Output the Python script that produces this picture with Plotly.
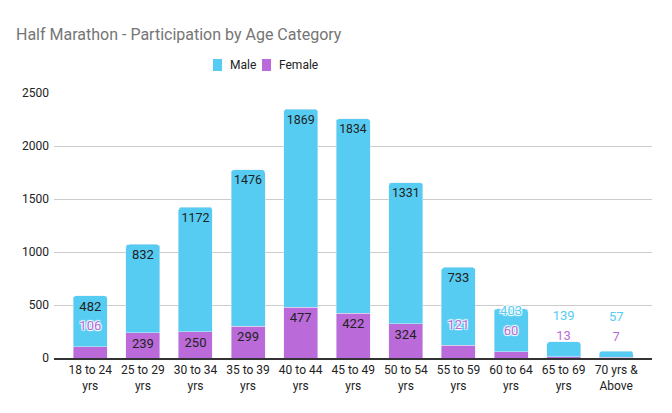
import plotly.graph_objects as go

categories = ["18 to 24<br>yrs", "25 to 29<br>yrs", "30 to 34<br>yrs", "35 to 39<br>yrs",
              "40 to 44<br>yrs", "45 to 49<br>yrs", "50 to 54<br>yrs", "55 to 59<br>yrs",
              "60 to 64<br>yrs", "65 to 69<br>yrs", "70 yrs &<br>Above"]
male = [482, 832, 1172, 1476, 1869, 1834, 1331, 733, 403, 139, 57]
female = [106, 239, 250, 299, 477, 422, 324, 121, 60, 13, 7]

MALE_C = "#56CCF2"
FEMALE_C = "#BB6BD9"
FONT = "Roboto"

# label placement logic (data units; ~0.106 px per unit)
F_MIN_INSIDE = 190
F_OUT_OFF = 185
M_OUT_OFF = 375
M_GAP = 265

f_inside = [f >= F_MIN_INSIDE for f in female]
f_label_y = [f + F_OUT_OFF for f in female]
m_inside = [fi or (m - F_OUT_OFF) > M_GAP for fi, m in zip(f_inside, male)]

idx = list(range(len(categories)))

fig = go.Figure()
fig.add_trace(go.Bar(
    x=idx, y=female, name="Female", marker_color=FEMALE_C,
    text=[str(v) if ins else "" for v, ins in zip(female, f_inside)],
    textposition="inside", insidetextanchor="end", textangle=0,
    textfont=dict(color="#222222", size=13, family=FONT),
    width=0.646, showlegend=False,
))
fig.add_trace(go.Bar(
    x=idx, y=male, name="Male", marker_color=MALE_C,
    text=[str(v) if ins else "" for v, ins in zip(male, m_inside)],
    textposition="inside", insidetextanchor="end", textangle=0,
    textfont=dict(color="#222222", size=13, family=FONT),
    width=0.646, showlegend=False,
))

shadow = "1px 1px 1px #fff, -1px -1px 1px #fff, 1px -1px 1px #fff, -1px 1px 1px #fff"

fo_x = [i for i in idx if not f_inside[i]]
fig.add_trace(go.Scatter(
    x=fo_x, y=[f_label_y[i] for i in fo_x], mode="text",
    text=[str(female[i]) for i in fo_x],
    textfont=dict(color=FEMALE_C, size=13, family=FONT, shadow=shadow),
    showlegend=False, hoverinfo="skip", cliponaxis=False,
))
mo_x = [i for i in idx if not m_inside[i]]
fig.add_trace(go.Scatter(
    x=mo_x, y=[female[i] + M_OUT_OFF for i in mo_x], mode="text",
    text=[str(male[i]) for i in mo_x],
    textfont=dict(color=MALE_C, size=13, family=FONT, shadow=shadow),
    showlegend=False, hoverinfo="skip", cliponaxis=False,
))

# page offset (body margin) compensation
OFF = 8
W, H = 672 - OFF, 413 - OFF
# plot area in page pixels
PL, PR, PT, PB = 54 - OFF, 652 - OFF, 93 - OFF, 358 - OFF


def px_x(p):
    return (p - OFF - PL) / (PR - PL)


def px_y(q):
    return (PB - (q - OFF)) / (PB - PT)


# manual legend (Google Sheets style)
legend_items = [("Male", MALE_C, 213), ("Female", FEMALE_C, 262)]
shapes = []
annotations = []
for name, col, sx in legend_items:
    shapes.append(dict(type="rect", xref="paper", yref="paper",
                       x0=px_x(sx), x1=px_x(sx + 9), y0=px_y(71), y1=px_y(59),
                       fillcolor=col, line=dict(width=0)))
    annotations.append(dict(text=name, xref="paper", yref="paper",
                            x=px_x(sx + 15), y=px_y(65), xanchor="left", yanchor="middle",
                            showarrow=False, font=dict(family=FONT, size=12, color="#222222")))

fig.update_layout(
    width=W, height=H,
    barmode="stack", barcornerradius=3,
    paper_bgcolor="white", plot_bgcolor="white",
    margin=dict(l=PL, r=W - PR, t=PT, b=H - PB, autoexpand=False),
    font=dict(family=FONT, color="#222222", size=12),
    title=dict(text="Half Marathon - Participation by Age Category",
               font=dict(family=FONT, size=16, color="#757575"),
               x=(16 - OFF) / W, xref="container", xanchor="left",
               y=1 - (34 - OFF) / H, yref="container", yanchor="middle"),
    showlegend=False,
    shapes=shapes, annotations=annotations,
)
fig.update_xaxes(
    tickmode="array", tickvals=idx, ticktext=categories,
    range=[-0.69, 10.68], showgrid=False, showline=True, linecolor="#333333",
    linewidth=1.5, ticks="", tickfont=dict(size=12, color="#222222"),
    fixedrange=True, automargin=False,
)
fig.update_yaxes(
    range=[0, 2500], dtick=500, showgrid=True, gridcolor="#cccccc", gridwidth=1,
    zeroline=False, showline=False, ticks="", tickfont=dict(size=12, color="#222222"),
    ticklabelstandoff=4, fixedrange=True, automargin=False,
)

fig.write_html("out.html")
